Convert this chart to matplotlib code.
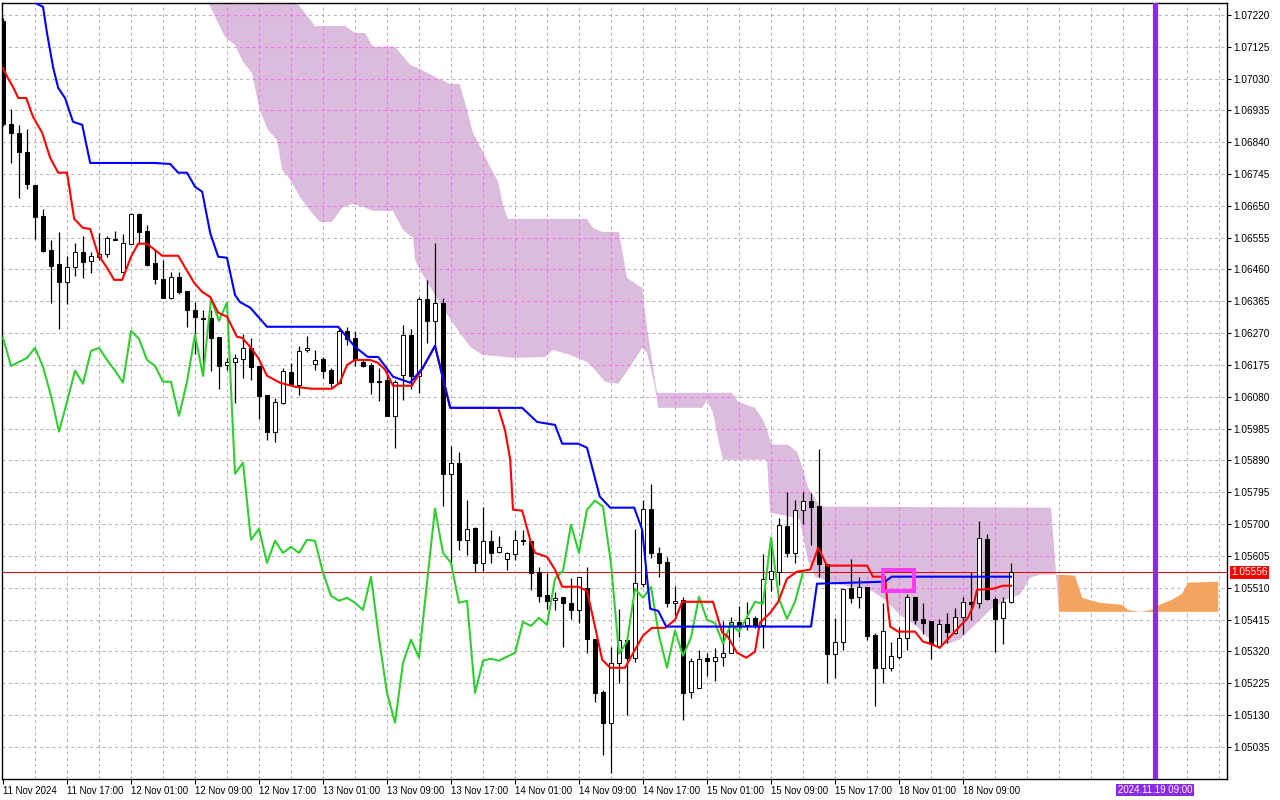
import numpy as np
import matplotlib.pyplot as plt
import matplotlib.transforms as mtransforms
from matplotlib.patches import Polygon, Rectangle

plt.rcParams['font.family'] = ['Liberation Sans', 'DejaVu Sans']

# EURUSD H1, bar index 0 = 11 Nov 2024 09:00
opens = [
    1.07202, 1.06895, 1.06868, 1.06811, 1.06713, 1.06620, 1.06519, 1.06477, 1.06423, 1.06468,
    1.06513, 1.06486, 1.06498, 1.06507, 1.06552, 1.06453, 1.06537, 1.06626, 1.06575, 1.06480,
    1.06432, 1.06375, 1.06438, 1.06396, 1.06340, 1.06316, 1.06316, 1.06259, 1.06175, 1.06184,
    1.06193, 1.06226, 1.06172, 1.06086, 1.05976, 1.06062, 1.06155, 1.06116, 1.06220, 1.06178,
    1.06193, 1.06161, 1.06122, 1.06277, 1.06256, 1.06184, 1.06175, 1.06128, 1.06131, 1.06023,
    1.06146, 1.06265, 1.06143, 1.06372, 1.06307, 1.06361, 1.05850, 1.05883, 1.05653, 1.05689,
    1.05584, 1.05650, 1.05617, 1.05596, 1.05611, 1.05653, 1.05650, 1.05558, 1.05489, 1.05474,
    1.05483, 1.05465, 1.05444, 1.05510, 1.05358, 1.05200, 1.05107, 1.05286, 1.05355, 1.05301,
    1.05522, 1.05746, 1.05614, 1.05587, 1.05465, 1.05474, 1.05199, 1.05211, 1.05301, 1.05292,
    1.05304, 1.05316, 1.05408, 1.05399, 1.05420, 1.05399, 1.05537, 1.05558, 1.05695, 1.05614,
    1.05743, 1.05770, 1.05755, 1.05582, 1.05313, 1.05349, 1.05510, 1.05483, 1.05513, 1.05370,
    1.05271, 1.05271, 1.05304, 1.05361, 1.05483, 1.05417, 1.05411, 1.05337, 1.05402, 1.05376,
    1.05423, 1.05468, 1.05465, 1.05656, 1.05477, 1.05420, 1.05468]
highs = [
    1.07211, 1.06940, 1.06892, 1.06880, 1.06713, 1.06641, 1.06549, 1.06572, 1.06501, 1.06540,
    1.06560, 1.06513, 1.06569, 1.06560, 1.06575, 1.06566, 1.06629, 1.06629, 1.06593, 1.06519,
    1.06489, 1.06453, 1.06453, 1.06396, 1.06363, 1.06340, 1.06340, 1.06259, 1.06196, 1.06208,
    1.06268, 1.06256, 1.06172, 1.06086, 1.06077, 1.06167, 1.06181, 1.06232, 1.06262, 1.06220,
    1.06199, 1.06167, 1.06283, 1.06289, 1.06277, 1.06190, 1.06181, 1.06167, 1.06161, 1.06131,
    1.06295, 1.06283, 1.06378, 1.06429, 1.06540, 1.06375, 1.05934, 1.05916, 1.05772, 1.05692,
    1.05752, 1.05683, 1.05665, 1.05617, 1.05683, 1.05683, 1.05650, 1.05573, 1.05555, 1.05498,
    1.05483, 1.05540, 1.05543, 1.05573, 1.05358, 1.05205, 1.05334, 1.05447, 1.05364, 1.05686,
    1.05772, 1.05820, 1.05632, 1.05602, 1.05516, 1.05483, 1.05301, 1.05325, 1.05316, 1.05331,
    1.05411, 1.05423, 1.05456, 1.05468, 1.05426, 1.05611, 1.05662, 1.05719, 1.05796, 1.05772,
    1.05796, 1.05793, 1.05925, 1.05582, 1.05420, 1.05510, 1.05596, 1.05543, 1.05513, 1.05376,
    1.05465, 1.05349, 1.05394, 1.05492, 1.05483, 1.05465, 1.05411, 1.05417, 1.05435, 1.05450,
    1.05483, 1.05558, 1.05710, 1.05671, 1.05483, 1.05483, 1.05584]
lows = [
    1.06889, 1.06778, 1.06674, 1.06701, 1.06552, 1.06513, 1.06361, 1.06283, 1.06358, 1.06441,
    1.06435, 1.06450, 1.06489, 1.06498, 1.06549, 1.06450, 1.06537, 1.06537, 1.06471, 1.06417,
    1.06375, 1.06372, 1.06387, 1.06289, 1.06208, 1.06143, 1.06158, 1.06104, 1.06161, 1.06062,
    1.06137, 1.06131, 1.06014, 1.05952, 1.05946, 1.06059, 1.06119, 1.06086, 1.06214, 1.06161,
    1.06137, 1.06110, 1.06119, 1.06235, 1.06172, 1.06170, 1.06089, 1.06068, 1.06023, 1.05928,
    1.06071, 1.06104, 1.06092, 1.06241, 1.06229, 1.05755, 1.05570, 1.05623, 1.05608, 1.05558,
    1.05561, 1.05584, 1.05614, 1.05564, 1.05593, 1.05638, 1.05504, 1.05468, 1.05447, 1.05444,
    1.05334, 1.05417, 1.05405, 1.05316, 1.05170, 1.05011, 1.04958, 1.05226, 1.05131, 1.05289,
    1.05513, 1.05599, 1.05543, 1.05453, 1.05429, 1.05116, 1.05182, 1.05211, 1.05247, 1.05232,
    1.05277, 1.05316, 1.05364, 1.05385, 1.05390, 1.05331, 1.05501, 1.05519, 1.05602, 1.05584,
    1.05701, 1.05638, 1.05543, 1.05226, 1.05241, 1.05325, 1.05465, 1.05450, 1.05355, 1.05158,
    1.05226, 1.05262, 1.05298, 1.05325, 1.05402, 1.05373, 1.05298, 1.05331, 1.05346, 1.05373,
    1.05373, 1.05414, 1.05450, 1.05474, 1.05319, 1.05343, 1.05465]
closes = [
    1.06895, 1.06868, 1.06811, 1.06716, 1.06617, 1.06516, 1.06471, 1.06423, 1.06468, 1.06513,
    1.06483, 1.06501, 1.06507, 1.06554, 1.06549, 1.06540, 1.06626, 1.06572, 1.06474, 1.06432,
    1.06375, 1.06438, 1.06393, 1.06340, 1.06319, 1.06313, 1.06256, 1.06172, 1.06184, 1.06196,
    1.06226, 1.06170, 1.06083, 1.05976, 1.06065, 1.06158, 1.06119, 1.06217, 1.06226, 1.06190,
    1.06158, 1.06122, 1.06277, 1.06253, 1.06190, 1.06172, 1.06125, 1.06125, 1.06023, 1.06125,
    1.06265, 1.06143, 1.06372, 1.06307, 1.06361, 1.05850, 1.05883, 1.05653, 1.05686, 1.05584,
    1.05650, 1.05614, 1.05632, 1.05614, 1.05653, 1.05650, 1.05555, 1.05486, 1.05471, 1.05480,
    1.05465, 1.05444, 1.05543, 1.05358, 1.05196, 1.05107, 1.05286, 1.05355, 1.05301, 1.05525,
    1.05746, 1.05614, 1.05584, 1.05465, 1.05471, 1.05196, 1.05292, 1.05298, 1.05292, 1.05304,
    1.05316, 1.05408, 1.05396, 1.05420, 1.05399, 1.05537, 1.05561, 1.05698, 1.05614, 1.05743,
    1.05770, 1.05752, 1.05582, 1.05313, 1.05349, 1.05507, 1.05480, 1.05513, 1.05367, 1.05271,
    1.05382, 1.05307, 1.05361, 1.05483, 1.05414, 1.05405, 1.05343, 1.05402, 1.05379, 1.05423,
    1.05468, 1.05462, 1.05659, 1.05477, 1.05417, 1.05468, 1.05556]

# ichimoku lines as (bar, price) vertices
tenkan = [
    (0, 1.07061), (0.6, 1.07032), (1.25, 1.07005), (1.9, 1.06972), (2.9, 1.06972),
    (3.75, 1.06916), (4.9, 1.06868), (5.9, 1.06793), (6.9, 1.06749), (8, 1.06749),
    (8.9, 1.06611), (10, 1.06584), (10.9, 1.06581), (11.9, 1.06504), (13, 1.06465),
    (13.9, 1.06429), (14.9, 1.06429), (16, 1.06498), (16.9, 1.06537), (18, 1.06537),
    (19.9, 1.06501), (21.9, 1.06501), (23.9, 1.06420), (24.9, 1.06393), (25.9, 1.06378),
    (26.9, 1.06331), (28, 1.06319), (29.25, 1.06259), (29.9, 1.06256), (30.9, 1.06229),
    (31.9, 1.06196), (33, 1.06143), (34.6, 1.06122), (36.5, 1.06110), (38.6, 1.06104),
    (41.1, 1.06104), (42.1, 1.06122), (43, 1.06175), (44, 1.06190), (45.9, 1.06190),
    (46.9, 1.06181), (47.75, 1.06161), (48.75, 1.06113), (51.1, 1.06113), (52.5, 1.06167),
    (54, 1.06232), (55.9, 1.06047), (61.9, 1.06047), (62.75, 1.05981), (63.4, 1.05892),
    (63.75, 1.05743), (64.9, 1.05740), (65.9, 1.05653), (66.5, 1.05614), (68, 1.05602),
    (69, 1.05564), (69.9, 1.05513), (71.9, 1.05513), (73, 1.05501), (74, 1.05394),
    (74.9, 1.05295), (75.9, 1.05271), (77.75, 1.05271), (79, 1.05325), (80, 1.05367),
    (81.1, 1.05390), (82.75, 1.05390), (84, 1.05414), (84.9, 1.05468), (88.75, 1.05468),
    (89.9, 1.05376), (90.6, 1.05364), (91.75, 1.05316), (92.9, 1.05301), (94, 1.05319),
    (94.6, 1.05405), (95.9, 1.05435), (96.9, 1.05468), (98, 1.05537), (99.25, 1.05558),
    (100.9, 1.05564), (101.9, 1.05629), (103, 1.05576), (108, 1.05576), (108.75, 1.05543),
    (110.25, 1.05543), (110.6, 1.05453), (110.9, 1.05394), (111.9, 1.05379), (114, 1.05379),
    (115, 1.05349), (115.9, 1.05343), (117.1, 1.05331), (118.4, 1.05364), (119.4, 1.05390),
    (120.6, 1.05420), (121.25, 1.05453), (121.75, 1.05504), (123.75, 1.05507), (125, 1.05516),
    (126, 1.05516)]
kijun = [
    (3, 1.07300), (4, 1.07256), (5, 1.07244), (5.5, 1.07166), (6.25, 1.07065),
    (6.9, 1.07002), (7.75, 1.06972), (8.75, 1.06901), (9.9, 1.06892), (10.9, 1.06778),
    (18.9, 1.06778), (20.9, 1.06775), (21.9, 1.06749), (23, 1.06749), (24, 1.06707),
    (24.9, 1.06692), (25.9, 1.06569), (26.9, 1.06498), (28, 1.06495), (29, 1.06384),
    (29.6, 1.06363), (30.9, 1.06346), (33, 1.06289), (41.9, 1.06289), (44, 1.06229),
    (45.6, 1.06199), (46.9, 1.06199), (48.75, 1.06140), (50.9, 1.06122), (52.5, 1.06167),
    (54, 1.06232), (55.9, 1.06047), (64.9, 1.06047), (66.75, 1.06005), (69, 1.05996),
    (69.9, 1.05940), (71.9, 1.05940), (73, 1.05928), (74.6, 1.05782), (75.9, 1.05749),
    (78.9, 1.05749), (79.9, 1.05683), (80.9, 1.05447), (81.9, 1.05441), (82.9, 1.05394),
    (101, 1.05394), (101.75, 1.05522), (110.25, 1.05528), (111.1, 1.05543), (126, 1.05543)]
span_a = [
    (24, 1.07350), (25.5, 1.07265), (27.75, 1.07154), (29, 1.07130), (30, 1.07080),
    (31.1, 1.07047), (32.1, 1.06937), (33.1, 1.06877), (34.25, 1.06847), (34.9, 1.06757),
    (35.9, 1.06728), (37.1, 1.06677), (38, 1.06647), (39.6, 1.06602), (41.1, 1.06602),
    (42.4, 1.06644), (43.6, 1.06656), (45, 1.06647), (46.25, 1.06635), (48.75, 1.06635),
    (50, 1.06578), (51.25, 1.06554), (51.5, 1.06489), (52.1, 1.06459), (53.4, 1.06408),
    (55.25, 1.06334), (57.1, 1.06271), (58.4, 1.06229), (59.9, 1.06205), (64, 1.06196),
    (67.75, 1.06199), (68.75, 1.06220), (70.9, 1.06205), (73, 1.06184), (73.75, 1.06167),
    (75.25, 1.06125), (76.9, 1.06119), (78.4, 1.06170), (79.9, 1.06226), (80.5, 1.06211),
    (81.5, 1.06110), (81.9, 1.06047), (87.4, 1.06047), (88, 1.06071), (88.75, 1.06032),
    (89.6, 1.05931), (90, 1.05892), (95.5, 1.05892), (95.9, 1.05734), (98.4, 1.05722),
    (99.6, 1.05713), (100.6, 1.05593), (101.5, 1.05543), (104.6, 1.05519), (108.4, 1.05504),
    (110.25, 1.05474), (112.1, 1.05429), (114, 1.05399), (115.9, 1.05355), (117.75, 1.05340),
    (119.6, 1.05355), (121.5, 1.05399), (123.4, 1.05444), (125.25, 1.05474), (127.1, 1.05489),
    (128.4, 1.05540), (129.6, 1.05549), (132, 1.05549), (134, 1.05546), (134.9, 1.05480),
    (137.1, 1.05465), (139.9, 1.05459), (140.6, 1.05444), (142.1, 1.05438), (143.6, 1.05444),
    (144.6, 1.05459), (146.1, 1.05474), (147.4, 1.05492), (148.1, 1.05525), (151.9, 1.05528)]
span_b = [
    (24, 1.07450), (35.5, 1.07320), (36.75, 1.07256), (39, 1.07187), (42.75, 1.07187),
    (44, 1.07166), (45.25, 1.07166), (46.25, 1.07125), (49, 1.07125), (50.9, 1.07071),
    (51.9, 1.07061), (54.25, 1.07032), (55.9, 1.07014), (57.1, 1.07014), (58, 1.06937),
    (58.75, 1.06868), (60, 1.06811), (60.9, 1.06766), (61.9, 1.06722), (62.5, 1.06653),
    (63.1, 1.06611), (73, 1.06611), (73.75, 1.06584), (74.9, 1.06572), (77, 1.06572),
    (77.4, 1.06519), (78, 1.06435), (79.9, 1.06405), (80.1, 1.06361), (80.6, 1.06271),
    (81.25, 1.06170), (81.75, 1.06092), (91.1, 1.06092), (91.9, 1.06065), (94, 1.06047),
    (95, 1.06011), (95.5, 1.05981), (96.1, 1.05937), (98.1, 1.05937), (99.25, 1.05916),
    (99.9, 1.05871), (100.6, 1.05811), (102.1, 1.05752), (131, 1.05749), (132, 1.05438),
    (151.9, 1.05438)]
kumo_twist = 132   # bar where the cloud turns from bearish to bullish
chikou_shift = 26

price_ticks = [1.07220, 1.07125, 1.07030, 1.06935, 1.06840, 1.06745, 1.06650, 1.06555,
               1.06460, 1.06365, 1.06270, 1.06175, 1.06080, 1.05985, 1.05890, 1.05795,
               1.05700, 1.05605, 1.05510, 1.05415, 1.05320, 1.05225, 1.05130, 1.05035]
time_ticks = [0, 8, 16, 24, 32, 40, 48, 56, 64, 72, 80, 88, 96, 104, 112, 120]
time_labels = ['11 Nov 2024', '11 Nov 17:00', '12 Nov 01:00', '12 Nov 09:00',
               '12 Nov 17:00', '13 Nov 01:00', '13 Nov 09:00', '13 Nov 17:00',
               '14 Nov 01:00', '14 Nov 09:00', '14 Nov 17:00', '15 Nov 01:00',
               '15 Nov 09:00', '15 Nov 17:00', '18 Nov 01:00', '18 Nov 09:00']

last_price = 1.05556
marker_bar = 144
marker_text = '2024.11.19 09:00'
box_bars = (110, 113.9)
box_prices = (1.05501, 1.05564)

fig = plt.figure(figsize=(12.8, 8), dpi=100)
ax = fig.add_axes([2 / 1280, 21 / 800, 1225 / 1280, 776.5 / 800])
ax.set_xlim(-0.125, 153)
ax.set_ylim(1.04939, 1.07257)

# cloud
pink_pts = [p for p in span_b if p[0] <= kumo_twist] + [p for p in span_a if p[0] <= kumo_twist][::-1]
orange_pts = [p for p in span_a if p[0] >= kumo_twist] + [p for p in span_b if p[0] >= kumo_twist][::-1]
pink = Polygon(pink_pts, closed=True, facecolor='#dcbcdc', edgecolor='none', zorder=1)
orange = Polygon(orange_pts, closed=True, facecolor='#f4a45e', edgecolor='none', zorder=1.8)
ax.add_patch(pink)
ax.add_patch(orange)

# grid (magenta where it crosses the bearish cloud)
gstyle = dict(lw=0.75, linestyle=(0, (3, 3)))
for gx in range(4, 153, 4):
    ax.axvline(gx, color='#bdb0bd', zorder=0.5, **gstyle)
    ln = ax.axvline(gx, color='#f070f0', zorder=1.5, **gstyle)
    ln.set_clip_path(pink)
for gy in price_ticks:
    ax.axhline(gy, color='#b3bab3', zorder=0.5, **gstyle)
    ln = ax.axhline(gy, color='#f070f0', zorder=1.5, **gstyle)
    ln.set_clip_path(pink)

ax.axhline(last_price, color='#e00000', lw=0.7, zorder=2.5)

# candles
o = np.array(opens)
c = np.array(closes)
x = np.arange(len(o))
ax.vlines(x, lows, highs, color='black', lw=0.9, zorder=3)
ax.bar(x, np.abs(c - o), bottom=np.minimum(o, c), width=0.5,
       color=np.where(c >= o, 'white', 'black'), edgecolor='black', linewidth=0.7, zorder=4)

# indicator lines
ax.plot(x[:len(c) - chikou_shift], c[chikou_shift:], color='#32cd32', lw=1.5, zorder=5)
tx, ty = zip(*tenkan)
ax.plot(tx, ty, color='#ff0000', lw=1.5, zorder=5.1)
kx, ky = zip(*kijun)
ax.plot(kx, ky, color='#0000ff', lw=1.5, zorder=5.2)

ax.add_patch(Rectangle((box_bars[0], box_prices[0]), box_bars[1] - box_bars[0],
                       box_prices[1] - box_prices[0], fill=False,
                       edgecolor='#f23ff2', lw=2.9, zorder=7))

ax.axvline(marker_bar, color='#8a2be2', lw=3.7, zorder=6)

# axes
ax.yaxis.tick_right()
ax.set_yticks(price_ticks)
ax.set_yticklabels([f'{v:.5f}' for v in price_ticks])
ax.set_xticks(time_ticks)
ax.set_xticklabels(time_labels, ha='left')
ax.tick_params(axis='y', length=3, width=0.8, pad=1.5, labelsize=7.2)
ax.tick_params(axis='x', length=3.5, width=0.8, pad=1.5, labelsize=6.9)
for s in ax.spines.values():
    s.set_linewidth(1.0)
    s.set_color('black')

ytrans = mtransforms.blended_transform_factory(ax.transAxes, ax.transData)
ax.text(1 + 4 / 1225, last_price, f'{last_price:.5f}', transform=ytrans, ha='left', va='center',
        color='white', fontsize=7.2, zorder=10, clip_on=False,
        bbox=dict(boxstyle='square,pad=0.15', fc='#ff0000', ec='none'))
xtrans = mtransforms.blended_transform_factory(ax.transData, ax.transAxes)
ax.text(marker_bar, -11 / 776.5, marker_text, transform=xtrans, ha='center', va='center',
        color='white', fontsize=6.9, zorder=10, clip_on=False,
        bbox=dict(boxstyle='square,pad=0.15', fc='#8a2be2', ec='none'))

fig.savefig('out.png', dpi=100)
